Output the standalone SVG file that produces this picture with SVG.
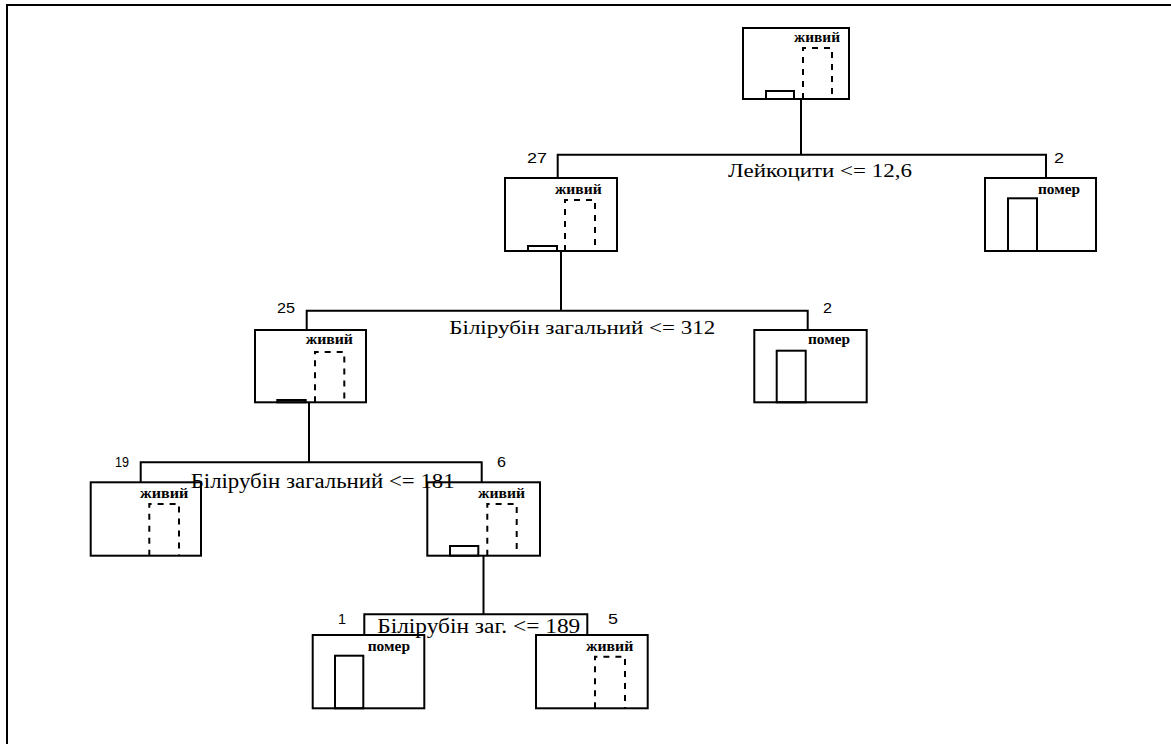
<svg xmlns="http://www.w3.org/2000/svg" width="1171" height="744" viewBox="0 0 1171 744">
<style>
.frame{fill:none;stroke:#000;stroke-width:2}
.box{fill:none;stroke:#000;stroke-width:2}
.bar{fill:none;stroke:#000;stroke-width:2}
.dash{fill:none;stroke:#000;stroke-width:2;stroke-dasharray:6,6}
.conn{fill:none;stroke:#000;stroke-width:2}
.cls{font-family:"Liberation Serif","Times New Roman","DejaVu Serif",serif;font-weight:bold;font-size:14px;fill:#000}
.num{font-family:"Liberation Sans",Arial,sans-serif;font-size:14.5px;fill:#000}
.cond{font-family:"Liberation Serif","Times New Roman","DejaVu Serif",serif;font-size:18px;fill:#000}
.cond2{font-family:"Liberation Serif","Times New Roman","DejaVu Serif",serif;font-size:20px;fill:#000}
</style>
<rect x="0" y="0" width="1171" height="744" fill="#fff"/>
<rect class="frame" x="7" y="5" width="1200" height="800"/>

<g id="root">
<rect class="box" x="743" y="28" width="106" height="71"/>
<text class="cls" x="794" y="42.3" textLength="46" lengthAdjust="spacingAndGlyphs">живий</text>
<path class="dash" d="M803,99 V48 H832 V99"/>
<rect class="bar" x="766" y="91" width="28" height="8"/>
</g>

<g id="n27">
<rect class="box" x="505" y="178" width="112" height="73"/>
<text class="cls" x="555" y="194" textLength="46.7" lengthAdjust="spacingAndGlyphs">живий</text>
<path class="dash" d="M565,251 V200 H595 V251"/>
<rect class="bar" x="528" y="246" width="29" height="5"/>
</g>

<g id="n2a">
<rect class="box" x="985" y="178" width="111" height="73"/>
<text class="cls" x="1038" y="194.3" textLength="42" lengthAdjust="spacingAndGlyphs">помер</text>
<rect class="bar" x="1008" y="198.3" width="29" height="52.7"/>
</g>

<g id="n25">
<rect class="box" x="255" y="330" width="111" height="72.3"/>
<text class="cls" x="305.7" y="344" textLength="47.3" lengthAdjust="spacingAndGlyphs">живий</text>
<path class="dash" d="M315,402.3 V352 H344.3 V402.3"/>
<rect class="bar" x="277.3" y="400" width="28.4" height="2.3"/>
</g>

<g id="n2b">
<rect class="box" x="754.3" y="330" width="112.4" height="72.3"/>
<text class="cls" x="808" y="344.3" textLength="42" lengthAdjust="spacingAndGlyphs">помер</text>
<rect class="bar" x="776.7" y="350.7" width="29" height="51.6"/>
</g>

<g id="n19">
<rect class="box" x="90.7" y="482.3" width="110.3" height="73.4"/>
<text class="cls" x="140" y="497.7" textLength="48.3" lengthAdjust="spacingAndGlyphs">живий</text>
<path class="dash" d="M149.3,555.7 V504 H179 V555.7"/>
</g>

<g id="n6">
<rect class="box" x="427.3" y="482.3" width="112.7" height="73.4"/>
<text class="cls" x="478" y="497.7" textLength="47" lengthAdjust="spacingAndGlyphs">живий</text>
<path class="dash" d="M487.3,555.7 V504 H516.7 V555.7"/>
<rect class="bar" x="450" y="546" width="28.3" height="9.7"/>
</g>

<g id="n1">
<rect class="box" x="312.7" y="635" width="111.6" height="73.3"/>
<text class="cls" x="367.7" y="651" textLength="42.3" lengthAdjust="spacingAndGlyphs">помер</text>
<rect class="bar" x="335" y="655.7" width="28.3" height="52.6"/>
</g>

<g id="n5">
<rect class="box" x="536" y="635" width="111.7" height="73.3"/>
<text class="cls" x="586" y="651" textLength="47.3" lengthAdjust="spacingAndGlyphs">живий</text>
<path class="dash" d="M595,708.3 V656.7 H625 V708.3"/>
</g>

<g id="connectors">
<path class="conn" d="M801,99 V154.7 M557.7,178 V154.7 H1046 V178"/>
<path class="conn" d="M561,251 V310.7 M306.7,330 V310.7 H807.7 V330"/>
<path class="conn" d="M309,402 V462.3 M140.7,482 V462.3 H481.7 V482"/>
<path class="conn" d="M483.5,556 V614.3 M364.3,635 V614.3 H587.3 V635"/>
<text class="cond" x="728" y="176.7" textLength="184" lengthAdjust="spacingAndGlyphs">Лейкоцити &lt;= 12,6</text>
<text class="cond" x="449.3" y="334.3" textLength="266" lengthAdjust="spacingAndGlyphs">Білірубін загальний &lt;= 312</text>
<text class="cond2" x="190.7" y="488.3" textLength="264" lengthAdjust="spacingAndGlyphs">Білірубін загальний &lt;= 181</text>
<text class="cond2" x="377.3" y="633.3" textLength="203" lengthAdjust="spacingAndGlyphs">Білірубін заг. &lt;= 189</text>
<text class="num" x="527" y="162.5" textLength="20" lengthAdjust="spacingAndGlyphs">27</text>
<text class="num" x="1054" y="163" textLength="10" lengthAdjust="spacingAndGlyphs">2</text>
<text class="num" x="277" y="313" textLength="18" lengthAdjust="spacingAndGlyphs">25</text>
<text class="num" x="823" y="313" textLength="9" lengthAdjust="spacingAndGlyphs">2</text>
<text class="num" x="115" y="467" textLength="14" lengthAdjust="spacingAndGlyphs">19</text>
<text class="num" x="497" y="467" textLength="9" lengthAdjust="spacingAndGlyphs">6</text>
<text class="num" x="338" y="623.5" textLength="8" lengthAdjust="spacingAndGlyphs">1</text>
<text class="num" x="608" y="623.5" textLength="10" lengthAdjust="spacingAndGlyphs">5</text>
</g>
</svg>
